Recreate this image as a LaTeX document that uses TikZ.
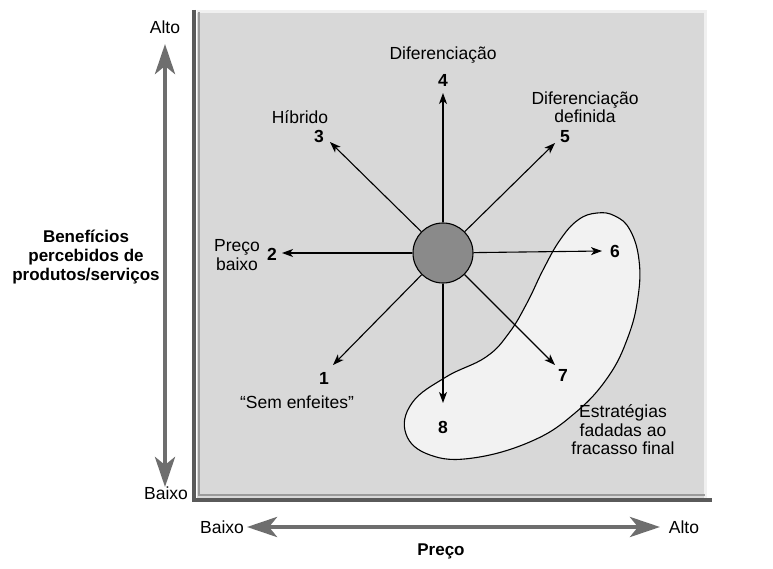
\documentclass[tikz,border=0pt]{standalone}
\usepackage{fontspec}
\setmainfont{Liberation Sans}
\usetikzlibrary{arrows.meta}
\definecolor{panelgray}{HTML}{D8D8D8}
\definecolor{blobfill}{HTML}{F2F2F2}
\definecolor{corefill}{HTML}{8A8A8A}
\definecolor{axisgray}{HTML}{6E6E6E}
\definecolor{edgedark}{HTML}{5A5A5A}
\definecolor{edgelight}{HTML}{9A9A9A}
\begin{document}
\begin{tikzpicture}[x=1pt,y=-1pt,
  lbl/.style={font=\fontsize{17.5}{18.5}\selectfont, inner sep=0pt, align=center},
  num/.style={font=\fontsize{17.5}{18.5}\selectfont\bfseries, inner sep=0pt},
  ray/.style={draw=black, line width=1.1pt, -{Stealth[length=11pt,width=8pt,inset=3pt]}},
  axistip/.tip={Stealth[length=30pt,width=20pt,inset=8pt]},
  axis/.style={draw=axisgray, line width=4.5pt, axistip-axistip},
]
\useasboundingbox (0,0) rectangle (773,569);

% panel with bevelled frame
\fill[panelgray] (197,12) rectangle (705,498);
\draw[white!88!gray, line width=3pt] (197,12) -- (705,12) -- (705,498);
\draw[edgedark, line width=3.5pt] (194,10) -- (194,500) -- (712,500);
\draw[edgelight, line width=1.2pt] (199,12) -- (199,495) -- (705,495);

% strategies doomed to failure
\draw[line width=1.1pt, fill=blobfill] plot[smooth cycle, tension=0.7] coordinates {
  (597,213) (615,216) (630,230) (639,260) (638,297) (628,337) (608,377)
  (575,413) (532,441) (473,458) (430,455) (406,434) (412,403) (446,377)
  (486,357) (509,333) (527,303) (543,270) (560,240) (578,220)};

% central position
\node[circle, draw=black, line width=1.1pt, fill=corefill, minimum size=60pt, inner sep=0pt] (c) at (443,253) {};

% ray end points
\coordinate (t1) at (333,365);
\coordinate (t2) at (282,253);
\coordinate (t3) at (330,142);
\coordinate (t4) at (443,93);
\coordinate (t5) at (555,143);
\coordinate (t6) at (602,251);
\coordinate (t7) at (555,365);
\coordinate (t8) at (443,403);
\foreach \k in {1,...,8} \draw[ray] (c) -- (t\k);

% route numbers
\node[num] (n1) at (324,378) {1};
\node[num] (n2) at (272,254) {2};
\node[num] (n3) at (319,136) {3};
\node[num] (n4) at (443,80) {4};
\node[num] (n5) at (565,137) {5};
\node[num] (n6) at (615,251) {6};
\node[num] (n7) at (563,375) {7};
\node[num] (n8) at (443,427) {8};

% route names
\node[lbl] (l1) at (297,402) {“Sem enfeites”};
\node[lbl] (l2) at (237,255) {Preço\\baixo};
\node[lbl] (l3) at (300,117) {Híbrido};
\node[lbl] (l4) at (443,55) {Diferenciação};
\node[lbl] (l5) at (585,107) {Diferenciação\\definida};
\node[lbl] (lf) at (623,430) {Estratégias\\fadadas ao\\fracasso final};

% axes
\coordinate (ytop) at (165,44);
\coordinate (ybot) at (165,487);
\draw[axis] (ybot) -- (ytop);
\node[lbl] (yhi) at (165,27) {Alto};
\node[lbl] (ylo) at (166,493) {Baixo};
\node[lbl, font=\fontsize{17}{19}\selectfont\bfseries] (yname) at (86,257) {Benefícios\\percebidos de\\produtos/serviços};

\coordinate (xl) at (247,527);
\coordinate (xr) at (660,527);
\draw[axis] (xl) -- (xr);
\node[lbl] (xlo) at (222,527) {Baixo};
\node[lbl] (xhi) at (684,527) {Alto};
\node[lbl, font=\fontsize{17}{18}\selectfont\bfseries] (xname) at (441,551) {Preço};
\end{tikzpicture}
\end{document}
